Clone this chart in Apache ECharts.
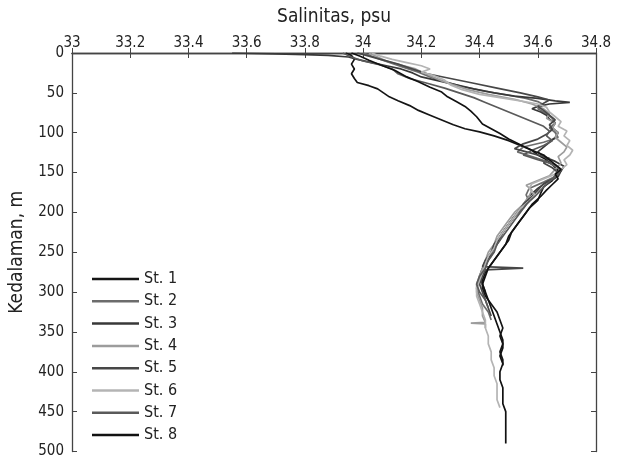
<!DOCTYPE html>
<html>
<head>
<meta charset="utf-8">
<script src="https://cdn.jsdelivr.net/npm/echarts@6/dist/echarts.min.js"></script>
<style>
html,body{margin:0;padding:0;background:#fff;}
#chart{width:624px;height:459px;}
</style>
</head>
<body>
<div id="chart"></div>
<script>
// Tick labels
var salinityTicks = [33, 33.2, 33.4, 33.6, 33.8, 34, 34.2, 34.4, 34.6, 34.8];
var depthTicks = [0, 50, 100, 150, 200, 250, 300, 350, 400, 450, 500];
var stationNames = ['St. 1', 'St. 2', 'St. 3', 'St. 4', 'St. 5', 'St. 6', 'St. 7', 'St. 8'];

// Station 1
var st1Depth = [0,3,8,14,20,26,32,37,41,45,50,55,60,66,72,78,84,90,95,99,104,110,116,122,128,134,140,147,153,160,168,176,185,195,205,215,225,235,245,255,265,275,285,295,305,315,325,335,345,355,365,375,385,392];
var st1Sal = [33.94,33.96,33.97,33.96,33.97,33.96,33.97,33.98,34.02,34.05,34.07,34.09,34.12,34.16,34.19,34.23,34.27,34.31,34.35,34.40,34.45,34.50,34.54,34.58,34.60,34.63,34.65,34.67,34.66,34.65,34.62,34.61,34.60,34.57,34.55,34.53,34.51,34.50,34.48,34.46,34.44,34.42,34.41,34.41,34.42,34.44,34.46,34.47,34.48,34.47,34.48,34.47,34.48,34.48];
// Station 2
var st2Depth = [0,4,8,13,18,24,30,36,42,48,53,57,61,65,70,76,82,88,94,100,106,112,118,124,130,136,142,148,155,162,170,178,186,195,205,215,225,235,245,255,265,275,285,295,305,315,325,335];
var st2Sal = [34.00,34.03,34.06,34.10,34.14,34.19,34.23,34.28,34.34,34.42,34.50,34.56,34.60,34.62,34.60,34.63,34.65,34.66,34.64,34.66,34.67,34.62,34.55,34.53,34.58,34.63,34.66,34.68,34.66,34.62,34.57,34.56,34.57,34.55,34.52,34.50,34.48,34.47,34.45,34.44,34.42,34.41,34.40,34.39,34.40,34.41,34.43,34.44];
// Station 3
var st3Depth = [0,1,2,3,5,8,12,16,20,25,30,35,40,45,50,54,57,60,62,64,67,70,74,78,83,88,94,100,106,112,118,124,130,136,142,148,155,162,170,180,190,200,210,220,230,240,250,260,270,280,290,300];
var st3Sal = [33.55,33.70,33.80,33.88,33.95,33.98,34.03,34.08,34.13,34.17,34.20,34.26,34.32,34.38,34.45,34.52,34.60,34.66,34.71,34.64,34.60,34.58,34.61,34.63,34.64,34.66,34.65,34.67,34.66,34.64,34.62,34.60,34.62,34.66,34.69,34.68,34.67,34.63,34.60,34.57,34.55,34.53,34.51,34.49,34.47,34.46,34.44,34.43,34.41,34.40,34.41,34.42];
// Station 4
var st4Depth = [0,5,10,15,20,25,30,35,40,46,52,58,64,70,76,82,88,94,100,106,112,118,124,130,138,146,154,160,166,172,180,190,200,210,220,230,240,250,260,270,280,290,300,310,320,330,338,339,340,345];
var st4Sal = [34.02,34.05,34.08,34.13,34.18,34.21,34.24,34.27,34.31,34.36,34.43,34.52,34.58,34.62,34.64,34.63,34.66,34.65,34.67,34.66,34.68,34.70,34.69,34.67,34.68,34.66,34.64,34.60,34.56,34.58,34.57,34.55,34.52,34.50,34.48,34.46,34.45,34.43,34.42,34.41,34.40,34.39,34.39,34.40,34.41,34.41,34.42,34.37,34.42,34.42];
// Station 5
var st5Depth = [0,4,9,14,20,26,32,38,44,50,55,59,63,67,72,78,84,90,96,102,108,114,120,126,132,138,144,150,157,164,172,180,190,200,210,220,230,240,250,260,268,270,272,280,290,300,310,320,330];
var st5Sal = [33.98,34.02,34.07,34.12,34.17,34.22,34.30,34.38,34.46,34.54,34.60,34.64,34.62,34.60,34.62,34.64,34.66,34.64,34.65,34.63,34.60,34.55,34.52,34.58,34.64,34.62,34.65,34.67,34.66,34.62,34.60,34.58,34.55,34.53,34.51,34.49,34.47,34.45,34.44,34.42,34.41,34.55,34.42,34.41,34.40,34.41,34.42,34.43,34.44];
// Station 6
var st6Depth = [0,4,8,12,16,20,24,28,34,40,46,52,56,60,64,68,74,80,86,92,98,104,110,116,122,128,134,140,146,152,158,164,170,178,186,195,205,215,225,235,245,255,265,275,285,295,305,315,325,335,345,355,365,375,385,395,405,415,425,435,445];
var st6Sal = [34.03,34.06,34.10,34.15,34.20,34.23,34.20,34.24,34.28,34.30,34.34,34.40,34.47,34.54,34.60,34.63,34.64,34.66,34.68,34.67,34.70,34.69,34.71,34.70,34.72,34.71,34.69,34.70,34.68,34.66,34.62,34.58,34.57,34.59,34.57,34.54,34.52,34.50,34.48,34.46,34.45,34.43,34.42,34.41,34.40,34.39,34.39,34.40,34.41,34.42,34.42,34.43,34.43,34.44,34.44,34.45,34.45,34.46,34.46,34.46,34.47];
// Station 7
var st7Depth = [0,5,10,15,20,26,32,38,44,50,56,62,68,74,80,86,92,98,104,110,116,122,128,134,140,146,152,158,165,172,180,190,200,210,220,230,240,250,260,270,280,290,300,310,320];
var st7Sal = [33.93,33.96,34.00,34.06,34.10,34.12,34.16,34.22,34.28,34.33,34.38,34.42,34.46,34.50,34.54,34.58,34.62,34.64,34.63,34.65,34.62,34.58,34.55,34.60,34.66,34.68,34.67,34.65,34.63,34.61,34.59,34.56,34.54,34.52,34.50,34.48,34.46,34.45,34.43,34.42,34.40,34.39,34.40,34.42,34.43];
// Station 8
var st8Depth = [0,4,9,15,22,30,36,43,49,55,61,67,73,80,89,95,101,108,115,122,128,134,140,146,152,158,165,172,180,190,200,210,220,230,240,250,260,270,280,290,300,310,320,330,340,350,360,370,380,390,400,410,420,430,440,450,460,470,480,490];
var st8Sal = [33.96,33.99,34.02,34.06,34.11,34.15,34.19,34.23,34.27,34.29,34.32,34.35,34.37,34.39,34.41,34.44,34.47,34.50,34.54,34.58,34.62,34.64,34.66,34.68,34.66,34.67,34.65,34.63,34.61,34.58,34.56,34.54,34.52,34.50,34.49,34.47,34.45,34.43,34.42,34.41,34.42,34.43,34.44,34.45,34.46,34.47,34.48,34.48,34.47,34.48,34.47,34.47,34.48,34.48,34.48,34.49,34.49,34.49,34.49,34.49];

var depths = [st1Depth, st2Depth, st3Depth, st4Depth, st5Depth, st6Depth, st7Depth, st8Depth];
var sals = [st1Sal, st2Sal, st3Sal, st4Sal, st5Sal, st6Sal, st7Sal, st8Sal];
var colors = ['#151515', '#6c6c6c', '#383838', '#9c9c9c', '#474747', '#b4b4b4', '#5a5a5a', '#111111'];

var series = stationNames.map(function (name, i) {
  return {
    name: name,
    type: 'line',
    xAxisIndex: 0,
    yAxisIndex: 0,
    symbol: 'none',
    animation: false,
    lineStyle: { color: colors[i], width: 1.7 },
    itemStyle: { color: colors[i] },
    data: sals[i].map(function (s, j) { return [s, depths[i][j]]; })
  };
});

var font = '"Liberation Sans Narrow", "DejaVu Sans Condensed", "Liberation Sans", Arial, sans-serif';
var frame = { show: true, lineStyle: { color: '#444', width: 1.3 } };

var chart = echarts.init(document.getElementById('chart'), null, { renderer: 'canvas' });
chart.setOption({
  animation: false,
  backgroundColor: '#fff',
  grid: { left: 71, top: 53, right: 28, bottom: 2, containLabel: false },
  legend: {
    orient: 'vertical',
    left: 92,
    top: 271,
    padding: 0,
    icon: 'rect',
    itemWidth: 47,
    itemHeight: 2.5,
    itemGap: 6.3,
    data: stationNames.map(function (n, i) { return { name: n, itemStyle: { color: colors[i] } }; }),
    textStyle: { fontFamily: font, fontSize: 16, lineHeight: 15, color: '#222' }
  },
  xAxis: [{
    type: 'value', position: 'top',
    min: salinityTicks[0], max: salinityTicks[salinityTicks.length - 1], interval: 0.2,
    name: 'Salinitas, psu', nameLocation: 'middle', nameGap: 26,
    nameTextStyle: { fontFamily: font, fontSize: 19, color: '#222' },
    axisLine: frame,
    axisTick: { show: true, inside: true, length: 5, lineStyle: { color: '#444' } },
    axisLabel: { fontFamily: font, fontSize: 15, color: '#222', margin: 2,
      formatter: function (v) { return String(Math.round(v * 10) / 10); } },
    splitLine: { show: false }
  }, {
    type: 'value', position: 'bottom',
    min: salinityTicks[0], max: salinityTicks[salinityTicks.length - 1], interval: 0.2,
    axisLine: frame,
    axisTick: { show: true, inside: true, length: 5, lineStyle: { color: '#444' } },
    axisLabel: { show: false },
    splitLine: { show: false }
  }],
  yAxis: [{
    type: 'value', inverse: true, position: 'left',
    min: depthTicks[0], max: depthTicks[depthTicks.length - 1], interval: 50,
    name: 'Kedalaman, m', nameLocation: 'middle', nameGap: 45, nameRotate: 90,
    nameTextStyle: { fontFamily: font, fontSize: 19, color: '#222' },
    axisLine: frame,
    axisTick: { show: true, inside: true, length: 5, lineStyle: { color: '#444' } },
    axisLabel: { fontFamily: font, fontSize: 15, color: '#222', margin: 8 },
    splitLine: { show: false }
  }, {
    type: 'value', inverse: true, position: 'right',
    min: depthTicks[0], max: depthTicks[depthTicks.length - 1], interval: 50,
    axisLine: frame,
    axisTick: { show: true, inside: true, length: 5, lineStyle: { color: '#444' } },
    axisLabel: { show: false },
    splitLine: { show: false }
  }],
  series: series
});
</script>
</body>
</html>
